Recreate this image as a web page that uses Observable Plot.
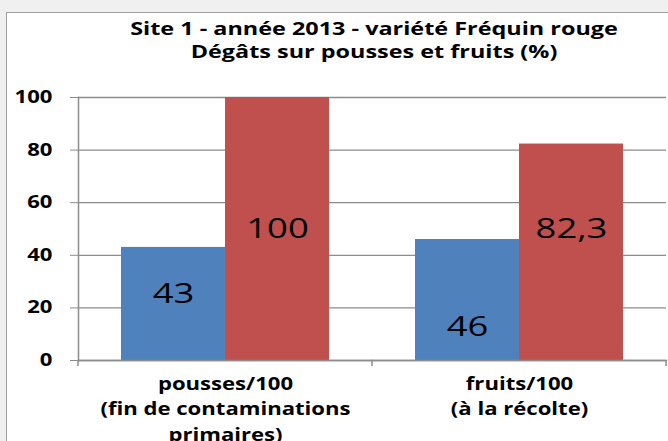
<!DOCTYPE html>
<html><head><meta charset="utf-8">
<script src="https://cdn.jsdelivr.net/npm/d3@7"></script>
<script src="https://cdn.jsdelivr.net/npm/@observablehq/plot@0.6"></script>
<style>
body{margin:0;background:#f0f0f0;width:668px;height:441px;overflow:hidden;position:relative;font-family:"Open Sans",sans-serif}
#box{position:absolute;left:6px;top:12px;width:700px;height:500px;background:#fff;border:1px solid #a0a0a0}
#title{position:absolute;left:40px;width:668px;top:17px;text-align:center;font-weight:bold;font-size:18px;line-height:23px;color:#000;font-family:"Open Sans",sans-serif;transform:scaleX(1.3)}
#chart{position:absolute;left:0;top:0}
</style></head><body>
<div id="box"></div>
<div id="chart"></div>
<div id="title">Site 1 - année 2013 - variété Fréquin rouge<br>Dégâts sur pousses et fruits (%)</div>
<script>
const categories = ["pousses/100\n(fin de contaminations\nprimaires)", "fruits/100\n(à la récolte)"];
const series = ["A", "B"];
const valuesA = [43, 46];
const valuesB = [100, 82.3];
const labelsA = ["43", "46"];
const labelsB = ["100", "82,3"];
const labelAtA = [25.3, 12.9];
const labelAtB = [50, 50];
const yTicks = [0, 20, 40, 60, 80, 100];
const colors = ["#4f81bd", "#c0504d"];

const data = [];
categories.forEach((c, i) => {
  data.push({cat: c, s: series[0], v: valuesA[i], lab: labelsA[i], at: labelAtA[i]});
  data.push({cat: c, s: series[1], v: valuesB[i], lab: labelsB[i], at: labelAtB[i]});
});

const chart = Plot.plot({
  width: 668, height: 441,
  marginLeft: 78, marginRight: 2, marginTop: 97, marginBottom: 81,
  style: {background: "transparent", fontFamily: "Open Sans, sans-serif", overflow: "visible"},
  fx: {domain: categories, padding: 0, label: null},
  x: {domain: series, paddingInner: 0, paddingOuter: 0.413, axis: null},
  y: {domain: [0, 100], label: null},
  color: {domain: series, range: colors},
  marks: [
    Plot.gridY(yTicks, {stroke: "#8c8c8c", strokeOpacity: 1, strokeWidth: 1.3}),
    Plot.barY(data, {fx: "cat", x: "s", y: "v", fill: "s"}),
    Plot.text(data, {fx: "cat", x: "s", y: "at", text: "lab", fontSize: 28, fill: "#000", fontFamily: "Open Sans"}),
    Plot.frame({anchor: "left", stroke: "#8c8c8c", strokeWidth: 1.5, facetAnchor: "left"}),
    Plot.frame({anchor: "bottom", stroke: "#8c8c8c", strokeWidth: 1.5}),
    Plot.axisY(yTicks, {tickSize: 8, tickPadding: 18, fontSize: 17, fontWeight: "bold", fontFamily: "Open Sans", stroke: "#8c8c8c", tickFormat: d => String(d), label: null}),
    Plot.axisFx({anchor: "bottom", tickSize: 0, tickPadding: 11, fontSize: 17, fontWeight: "bold", lineHeight: 1.5, fontFamily: "Open Sans", label: null})
  ]
});
document.getElementById("chart").appendChild(chart);

// horizontal stretch of the texts, as in the reference
const svg = d3.select(chart);
svg.selectAll("text")
  .each(function() {
    const el = d3.select(this);
    let t = el.attr("transform");
    if (!t) {
      const x = +el.attr("x") || 0, y = +el.attr("y") || 0;
      t = `translate(${x},${y})`;
      el.attr("x", null).attr("y", null);
    }
    el.attr("transform", t + " scale(1.3,1)");
  });

// small tick marks below the category axis
const fx = chart.scale("fx"), y = chart.scale("y");
const y0 = y.apply(0);
const xs = [fx.apply(categories[0])].concat(categories.map(c => fx.apply(c) + fx.bandwidth));
svg.append("g").selectAll("line").data(xs).join("line")
  .attr("x1", d => d).attr("x2", d => d).attr("y1", y0).attr("y2", y0 + 6)
  .attr("stroke", "#8c8c8c").attr("stroke-width", 1.5);
</script>
</body></html>
